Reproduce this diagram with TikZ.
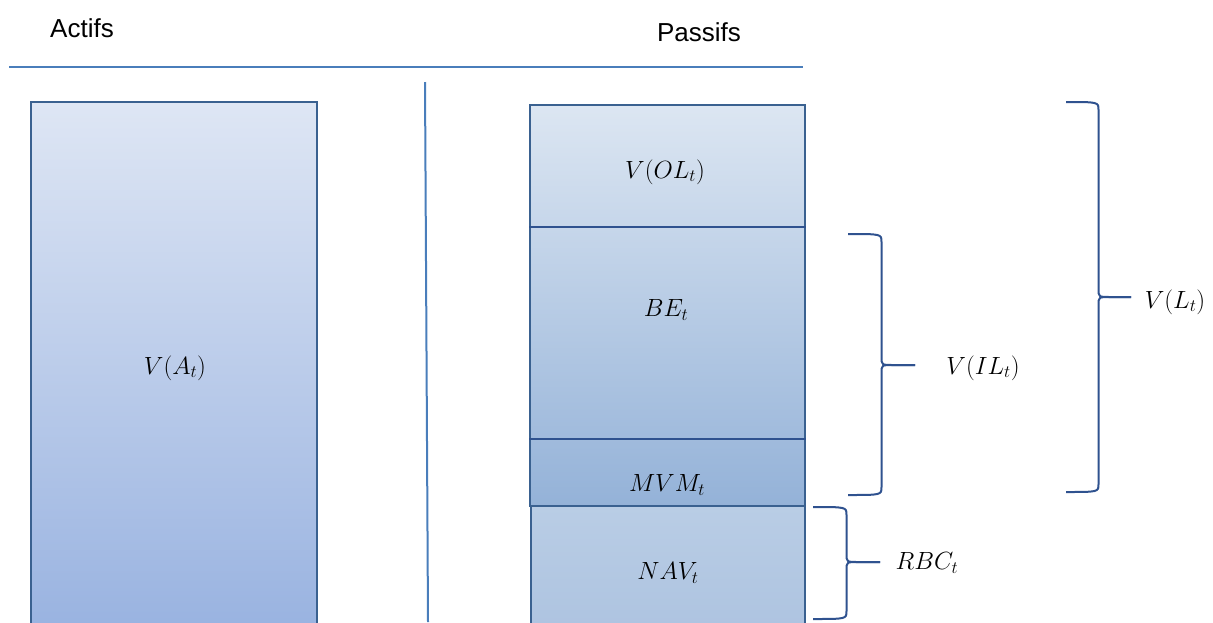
\documentclass[tikz,border=0pt]{standalone}
\usepackage{fontspec}
\setmainfont{Liberation Sans}
\usepackage{amsmath}
\usetikzlibrary{positioning, calc}
\definecolor{lineblue}{RGB}{74, 126, 187}
\definecolor{boxedge}{RGB}{58, 97, 144}
\definecolor{braceblue}{RGB}{47, 82, 143}
\definecolor{actiftop}{RGB}{222, 230, 244}
\definecolor{actifbot}{RGB}{152, 178, 224}
\definecolor{liabtop}{RGB}{220, 230, 242}
\definecolor{liabbot}{RGB}{148, 178, 216}
\definecolor{navtop}{RGB}{185, 205, 229}
\definecolor{navbot}{RGB}{173, 195, 224}

\tikzset{
  boxshade/.style={draw=boxedge, line width=2pt, rectangle, inner sep=0pt, anchor=north west},
  sepline/.style={draw=braceblue, line width=1.2pt},
  bracepath/.style={draw=braceblue, line width=2pt},
  mathlabel/.style={font=\fontsize{26}{30}\selectfont},
  headlabel/.style={font=\fontsize{26}{30}\selectfont}
}

% right curly brace: x0, y top, y bottom, y tip, width
\newcommand{\curlybrace}[5]{%
  \draw[bracepath] (#1,#2) .. controls ({#1+#5/2},#2) .. ({#1+#5/2},{#2+8})
    -- ({#1+#5/2},{#4-8}) .. controls ({#1+#5/2},#4) .. ({#1+#5/2+12},#4)
    -- ({#1+#5},#4);
  \draw[bracepath] ({#1+#5},#4) -- ({#1+#5/2+12},#4)
    .. controls ({#1+#5/2},#4) .. ({#1+#5/2},{#4+8})
    -- ({#1+#5/2},{#3-8}) .. controls ({#1+#5/2},#3) .. (#1,#3);
}

\begin{document}
\begin{tikzpicture}[x=1pt, y=-1pt]
  \useasboundingbox (0,0) rectangle (1213,622);
  \clip (0,0) rectangle (1213,622);

  % headings
  \node[headlabel] (actifs) at (82,28) {Actifs};
  \node[headlabel] (passifs) at (699,32) {Passifs};
  \coordinate (hl) at (9,67);
  \coordinate (hr) at (803,67);
  \draw[lineblue, line width=2pt] (hl) -- (hr);
  \coordinate (vt) at (425,82);
  \coordinate (vb) at (428,622);
  \draw[lineblue, line width=2pt] (vt) -- (vb);

  % assets
  \node[boxshade, top color=actiftop, bottom color=actifbot,
        minimum width=286pt, minimum height=535pt] (actif) at (30,101) {};
  \node[mathlabel] (va) at (175,368) {$V(A_t)$};

  % liabilities
  \node[boxshade, top color=liabtop, bottom color=liabbot,
        minimum width=275pt, minimum height=401pt] (liab) at (529,104) {};
  \node[boxshade, top color=navtop, bottom color=navbot,
        minimum width=274pt, minimum height=131pt] (nav) at (530,505) {};
  \draw[sepline] (liab.west |- 0,227) -- (liab.east |- 0,227);
  \draw[sepline] (liab.west |- 0,439) -- (liab.east |- 0,439);

  \node[mathlabel] (vol) at (665,172) {$V(OL_t)$};
  \node[mathlabel] (be) at (666,310) {$BE_t$};
  \node[mathlabel] (mvm) at (667,485) {$MVM_t$};
  \node[mathlabel] (navlab) at (668,573) {$NAV_t$};

  % braces
  \curlybrace{848}{234}{495}{365}{67}
  \curlybrace{1066}{102}{492}{297}{65}
  \curlybrace{813}{507}{619}{562}{67}

  \node[mathlabel] (vil) at (983,368) {$V(IL_t)$};
  \node[mathlabel] (vl) at (1175,302) {$V(L_t)$};
  \node[mathlabel] (rbc) at (927,563) {$RBC_t$};
\end{tikzpicture}
\end{document}
